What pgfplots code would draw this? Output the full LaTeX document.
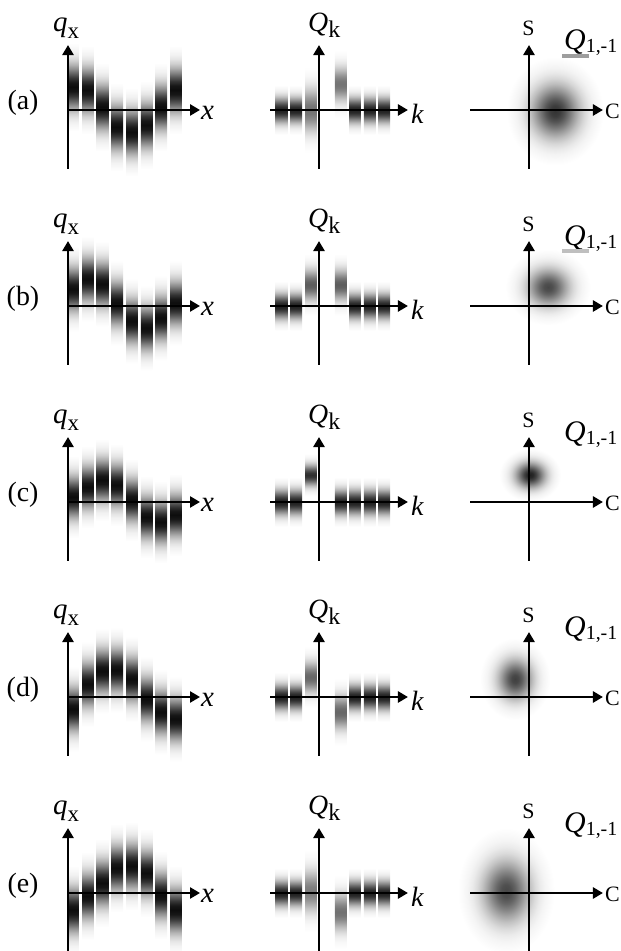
\documentclass[border=0pt]{standalone}
\usepackage{pgfplots}
\pgfplotsset{compat=1.18}
\usepackage{fontspec}
\setmainfont{Liberation Serif}
\usetikzlibrary{arrows.meta}

\colorlet{bandcol}{black}
% vertical Gaussian profile; the middle 25bp..75bp part is mapped onto the path
\pgfdeclareverticalshading[bandcol]{gaussv}{100bp}{%
 color(0bp)=(white); color(25bp)=(white); color(27.5bp)=(bandcol!2.6!white); color(30bp)=(bandcol!5.6!white);
 color(32.5bp)=(bandcol!11!white); color(35bp)=(bandcol!19.8!white); color(37.5bp)=(bandcol!32.5!white);
 color(40bp)=(bandcol!48.7!white); color(42.5bp)=(bandcol!66.7!white); color(45bp)=(bandcol!83.5!white);
 color(47.5bp)=(bandcol!95.6!white); color(50bp)=(bandcol);
 color(52.5bp)=(bandcol!95.6!white); color(55bp)=(bandcol!83.5!white); color(57.5bp)=(bandcol!66.7!white);
 color(60bp)=(bandcol!48.7!white); color(62.5bp)=(bandcol!32.5!white); color(65bp)=(bandcol!19.8!white);
 color(67.5bp)=(bandcol!11!white); color(70bp)=(bandcol!5.6!white); color(72.5bp)=(bandcol!2.6!white);
 color(75bp)=(white); color(100bp)=(white)}
% radial Gaussian blob
\pgfdeclareradialshading[bandcol]{gaussr}{\pgfpoint{0bp}{0bp}}{%
 color(0bp)=(bandcol); color(2.5bp)=(bandcol!95.6!white); color(5bp)=(bandcol!83.5!white);
 color(7.5bp)=(bandcol!66.7!white); color(10bp)=(bandcol!48.7!white); color(12.5bp)=(bandcol!32.5!white);
 color(15bp)=(bandcol!19.8!white); color(17.5bp)=(bandcol!11!white); color(20bp)=(bandcol!5.6!white);
 color(22.5bp)=(bandcol!2.6!white); color(25bp)=(white); color(50bp)=(white)}

\pgfdeclareplotmark{blank}{}
\newcommand\fs[1]{\fontsize{#1}{#1}\selectfont}

\pgfplotsset{
  base/.style={x=14.7bp, y=14.7bp, anchor=origin, clip=false, enlargelimits=false,
    xtick=\empty, ytick=\empty, ymin=-4.0, ymax=4.42},
  % axes that only carry the data (drawn first)
  dleft/.style={base, hide axis, xmin=0, xmax=8.98},
  dmid/.style={base, hide axis, xmin=-3.33, xmax=6.05},
  dright/.style={base, hide axis, xmin=-4.0, xmax=5.03},
  % axes that only carry the arrowed axis lines (drawn on top)
  lines/.style={base, axis lines=middle, axis line style={line width=2.7bp},
    every inner x axis line/.append style={-{Triangle[length=10bp,width=11bp]}},
    every inner y axis line/.append style={-{Triangle[length=10bp,width=11bp]}}},
  lleft/.style={lines, xmin=0, xmax=8.98},
  lmid/.style={lines, xmin=-3.33, xmax=6.05},
  lright/.style={lines, xmin=-4.0, xmax=5.03},
  gbars/.style={scatter, only marks, mark=blank,
    visualization depends on={value \thisrow{h} \as \vhh},
    visualization depends on={value \thisrow{d} \as \vdk},
    scatter/@pre marker code/.code={\colorlet{bandcol}{black!\vdk}%
      \shade[draw=none, shading=gaussv] (axis direction cs:-0.395,-\vhh) rectangle (axis direction cs:0.395,\vhh);},
    scatter/@post marker code/.code={}},
  gblob/.style={scatter, only marks, mark=blank,
    visualization depends on={value \thisrow{hx} \as \vhx},
    visualization depends on={value \thisrow{hy} \as \vhy},
    visualization depends on={value \thisrow{d} \as \vdk},
    scatter/@pre marker code/.code={\colorlet{bandcol}{black!\vdk}%
      \shade[draw=none, shading=gaussr] (axis direction cs:-\vhx,-\vhy) rectangle (axis direction cs:\vhx,\vhy);},
    scatter/@post marker code/.code={}},
}

\begin{document}
\begin{tikzpicture}
\useasboundingbox (0,0) rectangle (621bp,951bp);

% ---------------- row (a) ----------------
\begin{axis}[dleft, at={(68bp,841bp)}]
\addplot[gbars] table[row sep=\\]{x y h d\\
0.35 1.56 3.0 95\\ 1.35 1.36 3.0 95\\ 2.35 0.20 3.0 95\\ 3.35 -1.16 3.0 95\\
4.35 -1.50 3.0 95\\ 5.35 -1.02 3.0 95\\ 6.35 0.20 3.0 95\\ 7.35 1.36 3.0 95\\};
\end{axis}
\begin{axis}[dmid, at={(319bp,841bp)}]
\addplot[gbars] table[row sep=\\]{x y h d\\
-2.55 0 1.7 88\\ -1.55 0 1.7 88\\ -0.55 0 2.9 56\\ 1.47 1.77 2.3 55\\
2.46 0 1.7 88\\ 3.45 0 1.7 88\\ 4.44 0 1.7 88\\};
\end{axis}
\begin{axis}[dright, at={(529bp,841bp)}]
\addplot[gblob] table[row sep=\\]{x y hx hy d\\ 1.77 -0.07 3.3 3.7 80\\};
\end{axis}

% ---------------- row (b) ----------------
\begin{axis}[dleft, at={(68bp,645bp)}]
\addplot[gbars] table[row sep=\\]{x y h d\\
0.35 1.16 2.9 95\\ 1.35 1.84 2.9 95\\ 2.35 1.50 2.9 95\\ 3.35 0.20 2.9 95\\
4.35 -1.02 2.9 95\\ 5.35 -1.50 2.9 95\\ 6.35 -0.82 2.9 95\\ 7.35 0.20 2.9 95\\};
\end{axis}
\begin{axis}[dmid, at={(319bp,645bp)}]
\addplot[gbars] table[row sep=\\]{x y h d\\
-2.55 0 1.7 88\\ -1.55 0 1.7 88\\ -0.55 1.45 2.1 64\\ 1.47 1.45 2.1 64\\
2.46 0 1.7 88\\ 3.45 0 1.7 88\\ 4.44 0 1.7 88\\};
\end{axis}
\begin{axis}[dright, at={(529bp,645bp)}]
\addplot[gblob] table[row sep=\\]{x y hx hy d\\ 1.29 1.29 2.9 2.6 72\\};
\end{axis}

% ---------------- row (c) ----------------
\begin{axis}[dleft, at={(68bp,449bp)}]
\addplot[gbars] table[row sep=\\]{x y h d\\
0.35 0.34 2.8 95\\ 1.35 1.02 2.8 95\\ 2.35 1.50 2.8 95\\ 3.35 1.16 2.8 95\\
4.35 0.14 2.8 95\\ 5.35 -1.02 2.8 95\\ 6.35 -1.36 2.8 95\\ 7.35 -0.88 2.8 95\\};
\end{axis}
\begin{axis}[dmid, at={(319bp,449bp)}]
\addplot[gbars] table[row sep=\\]{x y h d\\
-2.55 0 1.7 88\\ -1.55 0 1.7 88\\ -0.55 1.84 1.45 82\\ 1.47 0 1.7 88\\
2.46 0 1.7 88\\ 3.45 0 1.7 88\\ 4.44 0 1.7 88\\};
\end{axis}
\begin{axis}[dright, at={(529bp,449bp)}]
\addplot[gblob] table[row sep=\\]{x y hx hy d\\ 0.07 1.84 2.1 1.8 88\\};
\end{axis}

% ---------------- row (d) ----------------
\begin{axis}[dleft, at={(68bp,254bp)}]
\addplot[gbars] table[row sep=\\]{x y h d\\
0.35 -0.82 2.9 95\\ 1.35 0.88 2.9 95\\ 2.35 1.77 2.9 95\\ 3.35 1.84 2.9 95\\
4.35 1.22 2.9 95\\ 5.35 -0.14 2.9 95\\ 6.35 -1.02 2.9 95\\ 7.35 -1.50 2.9 95\\};
\end{axis}
\begin{axis}[dmid, at={(319bp,254bp)}]
\addplot[gbars] table[row sep=\\]{x y h d\\
-2.55 0 1.7 88\\ -1.55 0 1.7 88\\ -0.55 1.36 2.1 60\\ 1.47 -1.02 2.3 60\\
2.46 0 1.7 88\\ 3.45 0 1.7 88\\ 4.44 0 1.7 88\\};
\end{axis}
\begin{axis}[dright, at={(529bp,254bp)}]
\addplot[gblob] table[row sep=\\]{x y hx hy d\\ -0.95 1.22 2.4 2.8 75\\};
\end{axis}

% ---------------- row (e) ----------------
\begin{axis}[dleft, at={(68bp,58bp)}]
\addplot[gbars] table[row sep=\\]{x y h d\\
0.35 -1.16 3.0 95\\ 1.35 -0.20 3.0 95\\ 2.35 0.68 3.0 95\\ 3.35 1.70 3.0 95\\
4.35 1.84 3.0 95\\ 5.35 1.36 3.0 95\\ 6.35 -0.14 3.0 95\\ 7.35 -1.16 3.0 95\\};
\end{axis}
\begin{axis}[dmid, at={(319bp,58bp)}]
\addplot[gbars] table[row sep=\\]{x y h d\\
-2.55 0 1.7 88\\ -1.55 0 1.7 88\\ -0.55 0.14 2.8 52\\ 1.47 -1.29 2.5 56\\
2.46 0 1.7 88\\ 3.45 0 1.7 88\\ 4.44 0 1.7 88\\};
\end{axis}
\begin{axis}[dright, at={(529bp,58bp)}]
\addplot[gblob] table[row sep=\\]{x y hx hy d\\ -1.56 0.14 3.3 4.3 72\\};
\end{axis}

% ---------------- axis lines on top ----------------
\foreach \T in {841,645,449,254,58}{
\begin{axis}[lleft, at={(68bp,\T bp)}]\end{axis}
\begin{axis}[lmid, at={(319bp,\T bp)}]\end{axis}
\begin{axis}[lright, at={(529bp,\T bp)}]\end{axis}
}

% ---------------- labels ----------------
\foreach \T/\L in {841/a,645/b,449/c,254/d,58/e}{
\begin{scope}[yshift=\T bp]
\node[inner sep=0, anchor=center] at (23bp,7bp) {\fs{28}(\L)};
\node[inner sep=0, anchor=base west] at (53bp,78bp) {{\fs{29}\itshape q}\raisebox{-6.5bp}{\fs{23}x}};
\node[inner sep=0, anchor=west] at (201bp,-2.5bp) {\fs{29}\itshape x};
\node[inner sep=0, anchor=base west] at (308bp,78bp) {{\fs{28}\itshape Q}\raisebox{-6bp}{\fs{24}k}};
\node[inner sep=0, anchor=west] at (411bp,-4bp) {\fs{28}\itshape k};
\node[inner sep=0, anchor=base] at (528.5bp,74bp) {\fs{22}S};
\node[inner sep=0, anchor=west] at (605bp,-1bp) {\fs{22}C};
\node[inner sep=0, anchor=base west] at (564bp,60bp) {{\fs{30}\itshape Q}\raisebox{-3bp}{\fs{20}1,-1}};
\end{scope}
}
\fill[black!38] (562bp,841bp+52bp) rectangle (589bp,841bp+56bp);
\fill[black!25] (562bp,645bp+53bp) rectangle (589bp,645bp+57bp);
\end{tikzpicture}
\end{document}
